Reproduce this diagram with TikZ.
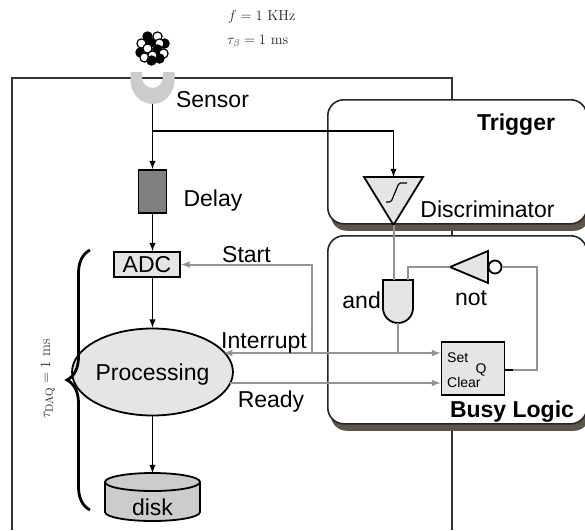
\documentclass[tikz,border=0pt]{standalone}
\usepackage{fontspec}
\usepackage{amsmath}
\usetikzlibrary{positioning,shapes.geometric,shadows,decorations.pathreplacing}
\newfontfamily\hv{Liberation Sans}
\definecolor{lightfill}{gray}{0.9}
\definecolor{diskfill}{gray}{0.8}
\definecolor{delayfill}{gray}{0.5}
\definecolor{cupgray}{gray}{0.8}
\definecolor{wiregray}{gray}{0.58}
\definecolor{shadowc}{RGB}{92,85,76}
\tikzstyle{block} = [draw, rectangle, fill=lightfill, line width=1.8pt, inner sep=0pt]
\tikzstyle{panel} = [draw=black!85, rounded corners=16pt, fill=white, line width=1.6pt, anchor=north west, inner sep=0pt, drop shadow={shadow xshift=3pt, shadow yshift=-7pt, fill=shadowc, opacity=1}]
\tikzstyle{gate} = [draw, fill=lightfill, line width=1.8pt]
\tikzstyle{sig} = [draw, line width=1.8pt, ->]
\tikzstyle{wire} = [draw=wiregray, line width=2pt]
\tikzstyle{frame} = [draw=black!80, line width=1.3pt]
\tikzstyle{lbl} = [font=\hv\fontsize{23}{26}\selectfont, inner sep=0pt]
\tikzstyle{title} = [font=\hv\bfseries\fontsize{23}{26}\selectfont, inner sep=0pt]
\tikzstyle{small} = [font=\hv\fontsize{14}{16}\selectfont, inner sep=0pt, anchor=west]
\tikzstyle{mathlbl} = [font=\fontsize{14.5}{17}\selectfont, inner sep=0pt, text=black!85]

\begin{document}
\begin{tikzpicture}[x=1pt, y=-1pt, >=latex, node distance=4pt]
\useasboundingbox (0,0) rectangle (585,530);

% outer frame
\draw[frame] (12,530) -- (12,78) -- (452,78) -- (452,530);

% trigger and busy panels
\node[panel, minimum width=259pt, minimum height=124pt] (trigger) at (327,99) {};
\node[panel, minimum width=259pt, minimum height=188pt] (busy) at (327,235) {};
\node[title] at (516,125) {Trigger};
\node[title] at (512,412) {Busy Logic};

% source nucleus
\foreach \dx/\dy/\c in {-5/-11/black, 5/-11/white, -11/-4/white, 12/-4/black,
    -2/-5/black, 7/-4/white, -12/5/black, -5/1/white, 5/2/black, 11/6/white,
    -8/10/white, 7/11/black, 0/8/white, -1/13/black}
  \filldraw[fill=\c, line width=1.2pt] (152.5+\dx,47.5+\dy) circle (4.6);
\node[mathlbl, anchor=west] (freq) at (228,17) {$f = 1\ \mathrm{KHz}$};
\node[mathlbl, anchor=west] (tau) at (227,42) {$\tau_\beta = 1\ \mathrm{ms}$};

% sensor cup
\fill[cupgray] (130.5,72) -- (130.5,80) arc[start angle=180, end angle=0, x radius=22, y radius=24]
  -- (174.5,72) -- (163,72) -- (163,77) arc[start angle=0, end angle=180, x radius=10.5, y radius=11]
  -- (142,72) -- cycle;
\coordinate (sensor) at (152.5,104);
\node[lbl] (sensorlbl) at (212.5,100) {Sensor};

% readout chain
\node[block, fill=delayfill, minimum width=28pt, minimum height=43pt] (delay) at (152.5,191.5) {};
\node[lbl, right=16pt of delay, yshift=-9pt] (delaylbl) {Delay};
\node[block, font=\hv\fontsize{23}{26}\selectfont, minimum width=66pt, minimum height=25pt] (adc) at (147,264.5) {ADC};
\node[ellipse, draw, fill=lightfill, line width=1.8pt, minimum width=131pt, minimum height=87pt,
  inner sep=0pt, text depth=0pt, font=\hv\fontsize{23}{26}\selectfont] (proc) at (152.5,372) {Processing};

% disk
\filldraw[fill=diskfill, line width=1.8pt] (105,482) -- (105,512)
  arc[start angle=180, end angle=0, x radius=47.5, y radius=9] -- (200,482);
\filldraw[fill=diskfill, line width=1.8pt] (152.5,482) ellipse [x radius=47.5, y radius=9];
\coordinate (disktop) at (152.5,473);
\node[lbl] (disk) at (152.5,507) {disk};

% dead time brace
\draw[line width=2.8pt, decorate, decoration={brace, amplitude=23pt}] (90,510) -- (90,250);
\node[mathlbl, rotate=90, font=\fontsize{15.5}{18}\selectfont] (daq) at (48,379) {$\tau_{\mathrm{DAQ}} = 1\ \mathrm{ms}$};

% discriminator
\draw[gate] (364,177) -- (423,177) -- (393.5,225) coordinate (disc-out) -- cycle;
\coordinate (disc-in) at (393.5,177);
\draw[line width=1.2pt, rounded corners=1.5pt] (386,202) -- (391,202) -- (399,183) -- (407,183);
\node[lbl] (disclbl) at (487.5,209) {Discriminator};

% and gate
\draw[gate] (383,280) -- (413,280) -- (413,308) arc[start angle=0, end angle=180, radius=15] -- cycle;
\coordinate (and-in1) at (393.5,280);
\coordinate (and-in2) at (408,280);
\coordinate (and-out) at (398,323);
\node[lbl, anchor=east] (andlbl) at (381,300) {and};

% not gate
\draw[gate] (488,251) -- (488,283) -- (450,267) coordinate (not-out) -- cycle;
\draw[line width=1.8pt, fill=white] (495,267) circle (6.5);
\coordinate (not-in) at (501.5,267);
\node[lbl] (notlbl) at (471,298) {not};

% flip-flop
\node[block, minimum width=63pt, minimum height=53pt] (ff) at (473,368.5) {};
\node[small] (set) at (447,358) {Set};
\node[small] (clear) at (447,382.5) {Clear};
\node[small, anchor=center] (q) at (481,370) {Q};

% black signal path
\coordinate (split) at (152.5,131);
\draw[sig] (sensor) -- (delay);
\draw[sig] (split) -| (disc-in);
\draw[sig] (delay) -- (delay.south |- adc.north);
\draw[sig] (proc.north |- adc.south) -- (proc.north);
\draw[sig] (proc) -- (disktop);

% grey logic wires
\coordinate (junc) at (398,353);
\coordinate (start) at (312,353);
\coordinate (rdy) at (440,383);
\draw[wire] (disc-out) -- (and-in1);
\draw[wire] (not-out) -| (and-in2);
\draw[wire] (and-out) -- (junc);
\draw[wire,->] (junc) -- (junc -| ff.west);
\draw[wire,->] (junc) -- (junc -| proc.17);
\draw[wire,->] (start) |- (adc.east);
\draw[wire,->] (rdy -| proc.-10) -- (rdy -| ff.west);
\draw[line width=2.4pt] (ff.east |- q) -- ++(8,0) coordinate (q-out);
\draw[wire] (q-out) -- ++(24,0) |- (not-in);

% labels on the wires
\node[lbl] (startlbl) at (246.5,254.5) {Start};
\node[lbl] (intlbl) at (264,343) {Interrupt};
\node[lbl] (readylbl) at (271,402) {Ready};
\end{tikzpicture}
\end{document}
